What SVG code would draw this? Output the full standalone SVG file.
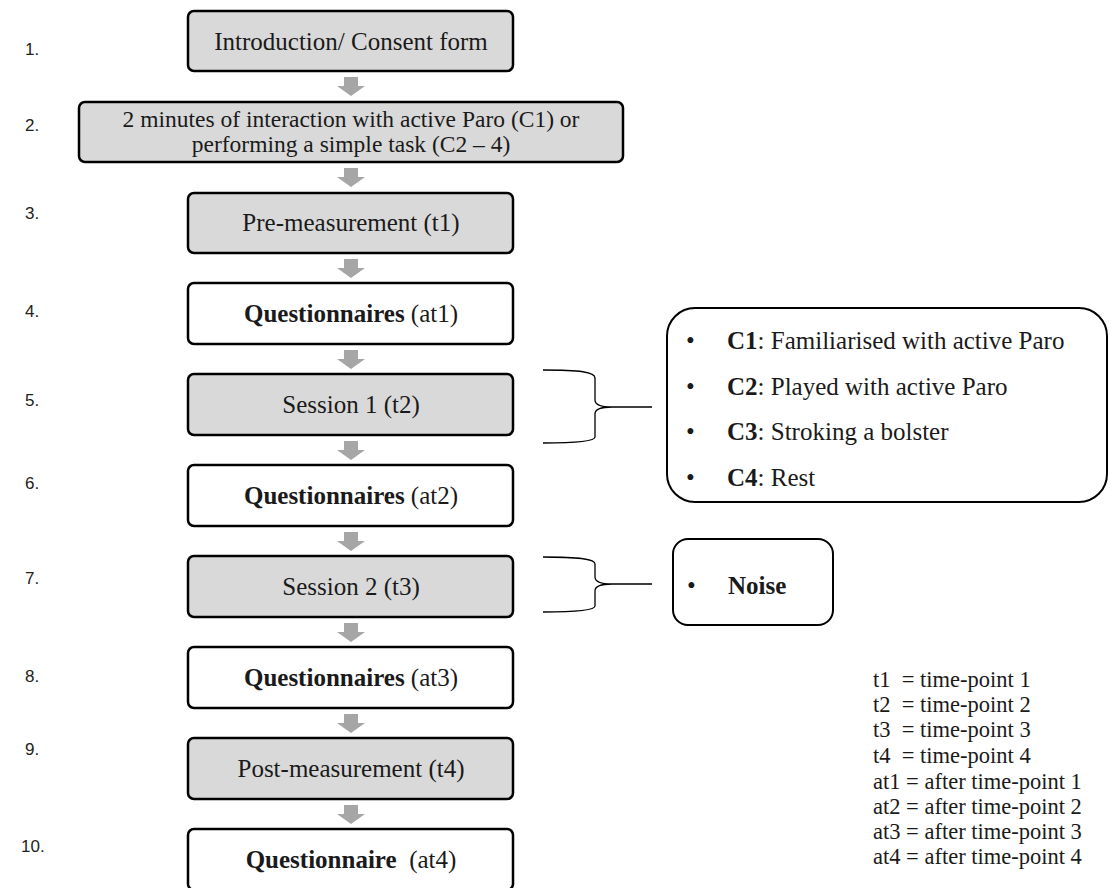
<svg xmlns="http://www.w3.org/2000/svg" width="1111" height="888" viewBox="0 0 1111 888">
<style>
.box{stroke:#000;stroke-width:2.5;}
.g{fill:#d9d9d9;}
.w{fill:#fff;}
.t{font-family:"Liberation Serif","Times New Roman",serif;font-size:25px;fill:#1a1a1a;text-anchor:middle;}
.b{font-weight:bold;}
.n{font-family:"Liberation Sans",Arial,sans-serif;font-size:17px;fill:#222;}
.lg{font-family:"Liberation Serif","Times New Roman",serif;font-size:22.5px;fill:#1a1a1a;white-space:pre;}
.li{font-family:"Liberation Serif","Times New Roman",serif;font-size:25px;fill:#1a1a1a;}
.arr{fill:#a6a6a6;}
.brace{fill:none;stroke:#000;stroke-width:1.3;}
</style>
<rect width="1111" height="888" fill="#fff"/>
<defs>
<polygon id="dn" class="arr" points="-7,0 7,0 7,9 14,9 0,19 -14,9 -7,9"/>
</defs>
<g id="labels">
<text class="n" x="25" y="55">1.</text>
<text class="n" x="25" y="131">2.</text>
<text class="n" x="25" y="219">3.</text>
<text class="n" x="25" y="317">4.</text>
<text class="n" x="25" y="406">5.</text>
<text class="n" x="25" y="489">6.</text>
<text class="n" x="25" y="584">7.</text>
<text class="n" x="25" y="682">8.</text>
<text class="n" x="25" y="755">9.</text>
<text class="n" x="21" y="852">10.</text>
</g>
<g id="connectors">
<use href="#dn" x="351" y="77"/>
<use href="#dn" x="351" y="168"/>
<use href="#dn" x="351" y="259"/>
<use href="#dn" x="351" y="350"/>
<use href="#dn" x="351" y="441"/>
<use href="#dn" x="351" y="532"/>
<use href="#dn" x="351" y="623"/>
<use href="#dn" x="351" y="714"/>
<use href="#dn" x="351" y="805"/>
<path class="brace" d="M543,370 C580,370 595,372 595,378 L595,400 Q595,407 612,407 L652,407 M612,407 Q595,407 595,414 L595,437 C595,441 580,443 543,443"/>
<path class="brace" d="M543,557 C580,557 595,559 595,564 L595,577 Q595,584 612,584 L652,584 M612,584 Q595,584 595,591 L595,606 C595,610 580,612 543,612"/>
</g>
<g id="n1"><rect class="box g" x="188" y="11" width="325" height="60" rx="6"/><text class="t" x="351" y="49.5">Introduction/ Consent form</text></g>
<g id="n2"><rect class="box g" x="79" y="102" width="544" height="60" rx="6"/><text class="t" style="font-size:23.5px" x="351" y="127">2 minutes of interaction with active Paro (C1) or</text><text class="t" style="font-size:23.5px" x="351" y="152">performing a simple task (C2 – 4)</text></g>
<g id="n3"><rect class="box g" x="188" y="193" width="325" height="60" rx="6"/><text class="t" x="351" y="231">Pre-measurement (t1)</text></g>
<g id="n4"><rect class="box w" x="188" y="283" width="325" height="61" rx="6"/><text class="t" x="351" y="322"><tspan class="b">Questionnaires</tspan> (at1)</text></g>
<g id="n5"><rect class="box g" x="188" y="374" width="325" height="61" rx="6"/><text class="t" x="351" y="413">Session 1 (t2)</text></g>
<g id="n6"><rect class="box w" x="188" y="465" width="325" height="61" rx="6"/><text class="t" x="351" y="504"><tspan class="b">Questionnaires</tspan> (at2)</text></g>
<g id="n7"><rect class="box g" x="188" y="556" width="325" height="61" rx="6"/><text class="t" x="351" y="595">Session 2 (t3)</text></g>
<g id="n8"><rect class="box w" x="188" y="647" width="325" height="61" rx="6"/><text class="t" x="351" y="686"><tspan class="b">Questionnaires</tspan> (at3)</text></g>
<g id="n9"><rect class="box g" x="188" y="738" width="325" height="61" rx="6"/><text class="t" x="351" y="777">Post-measurement (t4)</text></g>
<g id="n10"><rect class="box w" x="188" y="829" width="325" height="61" rx="6"/><text class="t" x="351" y="868" xml:space="preserve" style="white-space:pre"><tspan class="b">Questionnaire</tspan>  (at4)</text></g>
<g id="conditions">
<rect x="667" y="308" width="440" height="194" rx="28" fill="#fff" stroke="#000" stroke-width="2"/>
<text class="li" x="686" y="349">•</text><text class="li" x="727" y="349"><tspan class="b">C1</tspan>: Familiarised with active Paro</text>
<text class="li" x="686" y="395">•</text><text class="li" x="727" y="395"><tspan class="b">C2</tspan>: Played with active Paro</text>
<text class="li" x="686" y="440">•</text><text class="li" x="727" y="440"><tspan class="b">C3</tspan>: Stroking a bolster</text>
<text class="li" x="686" y="486">•</text><text class="li" x="727" y="486"><tspan class="b">C4</tspan>: Rest</text>
</g>
<g id="noise">
<rect x="673" y="539" width="160" height="86" rx="15" fill="#fff" stroke="#000" stroke-width="2"/>
<text class="li" x="687" y="594">•</text><text class="li b" x="728" y="594">Noise</text>
</g>
<g id="legend">
<text class="lg" x="873" y="687" xml:space="preserve">t1  = time-point 1</text>
<text class="lg" x="873" y="712" xml:space="preserve">t2  = time-point 2</text>
<text class="lg" x="873" y="737" xml:space="preserve">t3  = time-point 3</text>
<text class="lg" x="873" y="763" xml:space="preserve">t4  = time-point 4</text>
<text class="lg" x="873" y="789" xml:space="preserve">at1 = after time-point 1</text>
<text class="lg" x="873" y="814" xml:space="preserve">at2 = after time-point 2</text>
<text class="lg" x="873" y="839" xml:space="preserve">at3 = after time-point 3</text>
<text class="lg" x="873" y="864" xml:space="preserve">at4 = after time-point 4</text>
</g>
</svg>
